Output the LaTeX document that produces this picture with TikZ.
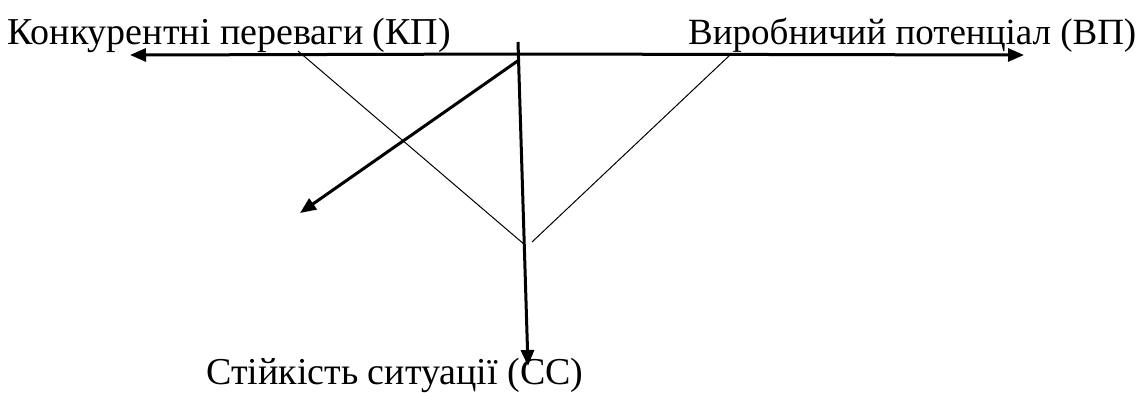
\documentclass[tikz,border=0pt]{standalone}
\usepackage{fontspec}
\setmainfont{Liberation Serif}
\usetikzlibrary{arrows.meta}
\begin{document}
\begin{tikzpicture}[x=1pt,y=-1pt,
  label/.style={inner sep=0pt,anchor=base west,font=\fontsize{38}{42}\selectfont},
  rlabel/.style={label,font=\fontsize{37}{41}\selectfont},
  axis/.style={line width=3pt,-{Triangle[length=16pt,width=13pt]}},
  guide/.style={line width=1pt}]
\useasboundingbox (0,0) rectangle (1141,392);
% axis labels
\node[label] (kp) at (7,44) {Конкурентні переваги (КП)};
\node[rlabel] (vp) at (688,44) {Виробничий потенціал (ВП)};
\node[label] (ss) at (206,384) {Стійкість ситуації (СС)};
% origin and axis ends
\coordinate (o) at (519,54);
\coordinate (top) at (518,42);
\coordinate (ds) at (519,60);
\coordinate (xl) at (130,55);
\coordinate (xr) at (1024,55);
\coordinate (dz) at (300,213);
\coordinate (down) at (528,366);
% axes
\draw[axis] (o) -- (xl);
\draw[axis] (o) -- (xr);
\draw[axis] (top) -- (down);
\draw[axis] (ds) -- (dz);
% thin guide lines
\coordinate (g1a) at (298,51);
\coordinate (g1b) at (525,245);
\coordinate (g2a) at (730,55);
\coordinate (g2b) at (532,242);
\draw[guide] (g1a) -- (g1b);
\draw[guide] (g2a) -- (g2b);
\end{tikzpicture}
\end{document}
